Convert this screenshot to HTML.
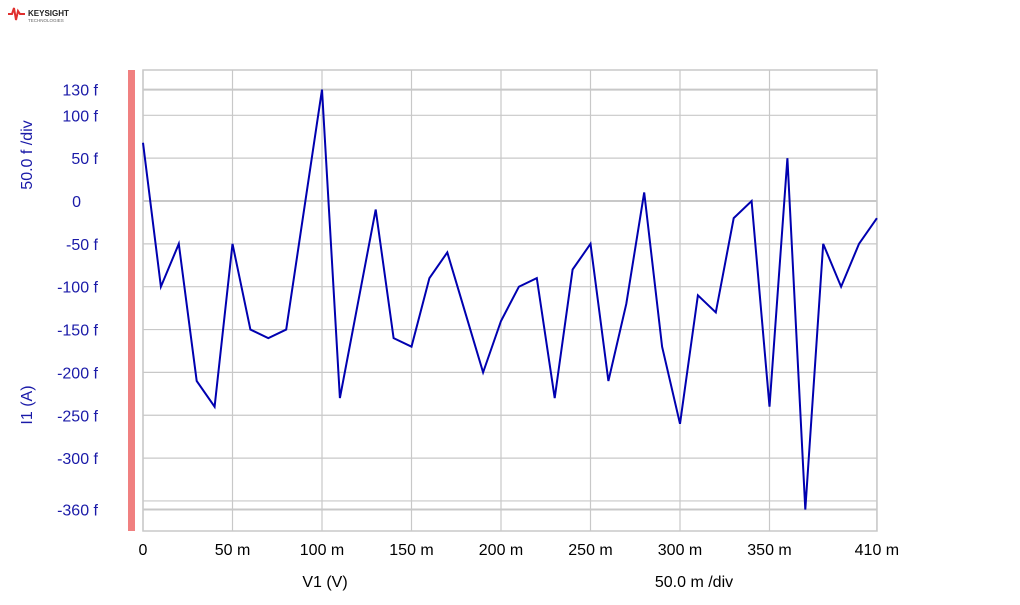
<!DOCTYPE html>
<html><head><meta charset="utf-8"><style>
body{margin:0;background:#fff;width:1020px;height:600px;overflow:hidden;font-family:"Liberation Sans",sans-serif}
</style></head><body>
<svg width="1020" height="600" xmlns="http://www.w3.org/2000/svg">
<g>
<path d="M8 14 L12 14 L14 8 L16 20 L18 11 L20 14 L25 14" stroke="#e0302e" stroke-width="2" fill="none"/>
<text x="28" y="16" font-size="8" font-weight="bold" fill="#222">KEYSIGHT</text>
<text x="28" y="22" font-size="4.5" fill="#666">TECHNOLOGIES</text>
</g>
<rect x="128" y="70" width="7" height="461" fill="#f08080"/>
<g id="grid"></g>
<rect x="143" y="70" width="734" height="461" fill="none" stroke="#c8c8c8" stroke-width="1.5"/>
<g id="yt" font-size="16" fill="#1a1aa8" text-anchor="end"></g>
<g id="xt" font-size="16" fill="#000" text-anchor="middle"></g>
<path id="line" fill="none" stroke="#0000b0" stroke-width="2"/>
<text transform="translate(32,155) rotate(-90)" text-anchor="middle" font-size="16" fill="#1a1aa8">50.0 f /div</text>
<text transform="translate(32,405) rotate(-90)" text-anchor="middle" font-size="16" fill="#1a1aa8">I1 (A)</text>
<text x="325" y="587" text-anchor="middle" font-size="16">V1 (V)</text>
<text x="694" y="587" text-anchor="middle" font-size="16">50.0 m /div</text>
</svg>
<script>
const xs=[0,10,20,30,40,50,60,70,80,90,100,110,120,130,140,150,160,170,180,190,200,210,220,230,240,250,260,270,280,290,300,310,320,330,340,350,360,370,380,390,400,410];
const ys=[68,-100,-50,-210,-240,-50,-150,-160,-150,-10,130,-230,-120,-10,-160,-170,-90,-60,-130,-200,-140,-100,-90,-230,-80,-50,-210,-120,10,-170,-260,-110,-130,-20,0,-240,50,-360,-50,-100,-50,-20];
const yTicks=[130,100,50,0,-50,-100,-150,-200,-250,-300,-360];
const yTickLabels=["130 f","100 f","50 f","0","-50 f","-100 f","-150 f","-200 f","-250 f","-300 f","-360 f"];
const yGrid=[130,100,50,0,-50,-100,-150,-200,-250,-300,-350,-360];
const xTicks=[0,50,100,150,200,250,300,350,410];
const xTickLabels=["0","50 m","100 m","150 m","200 m","250 m","300 m","350 m","410 m"];
const X=v=>143+v*1.79, Y=v=>201-v*0.857;
const NS="http://www.w3.org/2000/svg";
const g=document.getElementById('grid');
yGrid.forEach(v=>{const l=document.createElementNS(NS,'line');


l.setAttribute('x1',143);l.setAttribute('x2',877);l.setAttribute('y1',Y(v));l.setAttribute('y2',Y(v));
l.setAttribute('stroke','#c8c8c8');l.setAttribute('stroke-width',(v==130||v==0||v==-360)?2:1.2);g.appendChild(l);});
xTicks.forEach(v=>{const l=document.createElementNS(NS,'line');


l.setAttribute('x1',X(v));l.setAttribute('x2',X(v));l.setAttribute('y1',70);l.setAttribute('y2',531);
l.setAttribute('stroke','#c8c8c8');l.setAttribute('stroke-width',1.2);g.appendChild(l);});
const yt=document.getElementById('yt');
yTicks.forEach((v,i)=>{const t=document.createElementNS(NS,'text');


t.setAttribute('x',v==0?81:98);t.setAttribute('y',Y(v)+6);t.textContent=yTickLabels[i];yt.appendChild(t);});
const xt=document.getElementById('xt');
xTicks.forEach((v,i)=>{const t=document.createElementNS(NS,'text');


t.setAttribute('x',X(v));t.setAttribute('y',555);t.textContent=xTickLabels[i];xt.appendChild(t);});
document.getElementById('line').setAttribute('d',xs.map((v,i)=>(i?'L':'M')+X(v)+' '+Y(ys[i])).join(' '));
</script>
</body></html>
